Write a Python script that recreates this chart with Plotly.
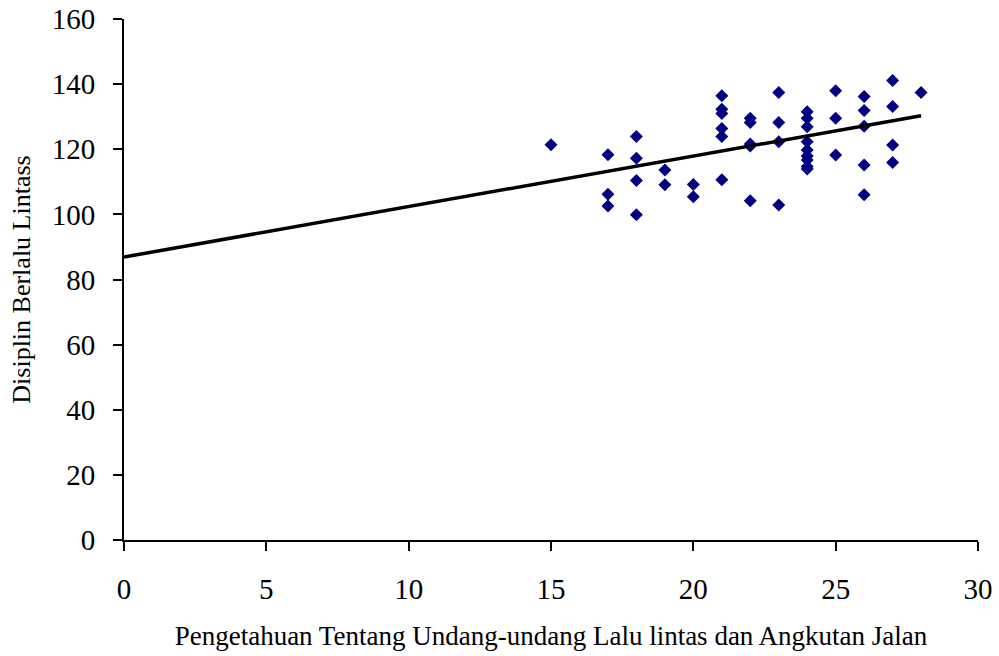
import plotly.graph_objects as go

# Data
x_vals = [15,
          17, 17, 17,
          18, 18, 18, 18,
          19, 19,
          20, 20,
          21, 21, 21, 21, 21, 21,
          22, 22, 22, 22, 22,
          23, 23, 23, 23,
          24, 24, 24, 24, 24, 24, 24, 24, 24,
          25, 25, 25,
          26, 26, 26, 26, 26,
          27, 27, 27, 27,
          28]
y_vals = [121.4,
          118.3, 106.2, 102.6,
          123.9, 117.2, 110.4, 99.9,
          113.6, 109.1,
          109.2, 105.4,
          136.4, 132.3, 131.0, 126.4, 123.9, 110.6,
          129.5, 128.2, 121.6, 121.0, 104.2,
          137.4, 128.2, 122.3, 102.9,
          131.5, 129.5, 126.9, 122.3, 119.8, 117.9, 116.7, 114.7, 113.9,
          138.0, 129.5, 118.2,
          136.2, 131.9, 127.1, 115.2, 106.0,
          141.1, 133.1, 121.3, 115.9,
          137.4]

trend_intercept = 86.9
trend_slope = 1.55
trend_x = [0, 28]
trend_y = [trend_intercept + trend_slope * v for v in trend_x]

x_ticks = [0, 5, 10, 15, 20, 25, 30]
y_ticks = [0, 20, 40, 60, 80, 100, 120, 140, 160]

font_family = "Liberation Serif, Times New Roman, serif"

fig = go.Figure()
fig.add_trace(go.Scatter(
    x=x_vals, y=y_vals, mode="markers",
    marker=dict(symbol="diamond", size=10, color="#000080", line=dict(width=0)),
    showlegend=False, cliponaxis=False))
fig.add_trace(go.Scatter(
    x=trend_x, y=trend_y, mode="lines",
    line=dict(color="black", width=3.5),
    showlegend=False))

fig.update_layout(
    width=999, height=656,
    margin=dict(l=124, r=21, t=19, b=116),
    paper_bgcolor="white", plot_bgcolor="white",
    font=dict(family=font_family, color="black"),
    xaxis=dict(
        range=[0, 30], tickvals=x_ticks, showgrid=False, zeroline=False,
        automargin=False,
        showline=True, linecolor="black", linewidth=2,
        ticks="outside", ticklen=9, tickwidth=2, tickcolor="black",
        tickfont=dict(size=29, family=font_family),
        ticklabelstandoff=13,
        title=dict(text="Pengetahuan Tentang Undang-undang Lalu lintas dan Angkutan Jalan",
                   font=dict(size=27, family=font_family), standoff=22),
    ),
    yaxis=dict(
        range=[0, 160], tickvals=y_ticks, showgrid=False, zeroline=False,
        automargin=False,
        showline=True, linecolor="black", linewidth=2,
        ticks="outside", ticklen=9, tickwidth=2, tickcolor="black",
        tickfont=dict(size=29, family=font_family),
        ticklabelstandoff=12,
        title=dict(text="Disiplin Berlalu Lintass",
                   font=dict(size=26, family=font_family), standoff=14),
    ),
)

fig.write_html("out.html")
